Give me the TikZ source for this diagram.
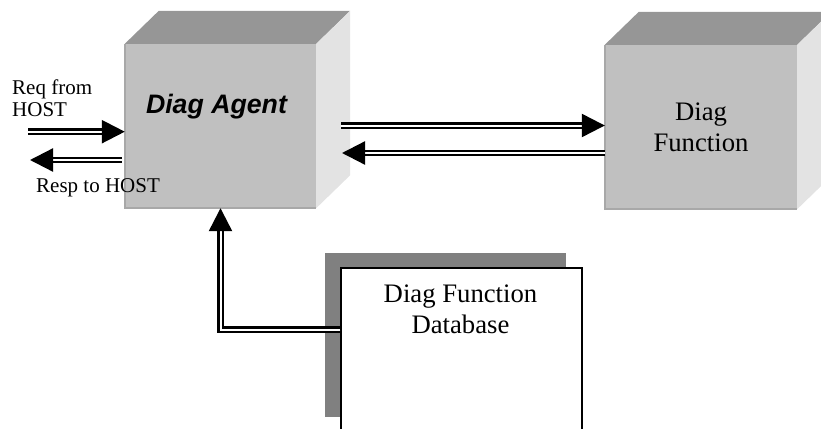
\documentclass[tikz,border=0pt]{standalone}
\usepackage{fontspec}
\setmainfont{Liberation Serif}
\newfontfamily\arialfont{Liberation Sans}
\usetikzlibrary{arrows.meta,calc}
\definecolor{frontgray}{RGB}{192,192,192}
\definecolor{topgray}{RGB}{150,150,150}
\definecolor{sidegray}{RGB}{227,227,227}
\definecolor{edgegray}{RGB}{168,168,168}
\definecolor{shadowgray}{RGB}{128,128,128}
\begin{document}
\begin{tikzpicture}[x=1pt,y=-1pt,
  frontface/.style={fill=frontgray, inner sep=0pt, minimum width=191pt, minimum height=164pt,
    align=center, font=\fontsize{26.7}{31}\selectfont},
  topface/.style={fill=topgray},
  sideface/.style={fill=sidegray},
  faceedge/.style={draw=edgegray, line width=1.5pt},
  dbbox/.style={draw=black, line width=1.5pt, fill=white, inner sep=0pt,
    minimum width=241pt, minimum height=164pt},
  dbshadow/.style={fill=shadowgray},
  bigtext/.style={font=\fontsize{26.7}{31}\selectfont, inner sep=0pt, align=center},
  hosttext/.style={font=\fontsize{21}{22}\selectfont, inner sep=0pt, align=left},
  dblarrow/.style={draw=black, line width=2.3pt, double=white, double distance=2pt,
    -{Triangle[length=23pt,width=23pt]}}]
\useasboundingbox (0,0) rectangle (821,428);
\clip (0,0) rectangle (821,428);

% Diag Agent block
\node[frontface] (agent) at (220.5,126) {};
\fill[topface] (agent.north west) -- ++(34,-33) -- ($(agent.north east)+(34,-33)$) -- (agent.north east) -- cycle;
\fill[sideface] (agent.north east) -- ++(34,-33) -- ($(agent.south east)+(34,-33)$) -- (agent.south east) -- cycle;
\draw[faceedge] (agent.north west) -- (agent.south west) -- (agent.south east);
\node[bigtext, anchor=base, font=\arialfont\bfseries\itshape\fontsize{26.7}{31}\selectfont] (agentlbl) at (216.5,113) {Diag Agent};

% Diag Function block
\node[frontface, minimum width=192pt] (fn) at (701,127) {Diag\\Function};
\fill[topface] (fn.north west) -- ++(34,-33) -- ($(fn.north east)+(34,-33)$) -- (fn.north east) -- cycle;
\fill[sideface] (fn.north east) -- ++(34,-33) -- ($(fn.south east)+(34,-33)$) -- (fn.south east) -- cycle;
\draw[faceedge] (fn.north west) -- (fn.south west) -- (fn.south east);

% Database with drop shadow
\path (461.5,350) node[minimum width=241pt, minimum height=164pt, inner sep=0pt] (dbfoot) {};
\fill[dbshadow] ($(dbfoot.north west)+(-16,-15)$) rectangle ($(dbfoot.south east)+(-16,-15)$);
\node[dbbox] (db) at (461.5,350) {};
\node[bigtext, anchor=north] (dblbl) at (460.5,285) {Diag Function\\Database};

% Host labels
\begin{scope}
  \clip (0,60) rectangle (125,116);
  \node[hosttext, anchor=north west] (reqlbl) at (12,80) {Req from\\HOST};
\end{scope}
\node[hosttext, anchor=base west] (resplbl) at (36,192) {Resp to HOST};

% Connectors
\coordinate (reqin) at (28,131.7);
\coordinate (respout) at (30,160);
\coordinate (a2f) at (341,125.5);
\coordinate (f2a) at (342,153);
\coordinate (dbout) at (0,329.5);

\draw[dblarrow] (reqin) -- (reqin -| agent.west);
\draw[dblarrow] ([xshift=-3pt]respout -| agent.west) -- (respout);
\draw[dblarrow] (a2f) -- (a2f -| fn.west);
\draw[dblarrow] (f2a -| fn.west) -- (f2a);
\draw[dblarrow] (db.west |- dbout) -| (agent.south);
\end{tikzpicture}
\end{document}
